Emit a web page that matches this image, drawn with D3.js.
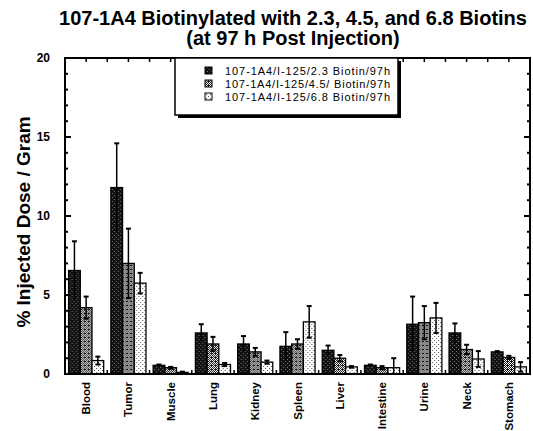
<!DOCTYPE html>
<html>
<head>
<meta charset="utf-8">
<script src="https://cdn.jsdelivr.net/npm/d3@7"></script>
<style>
  body { margin: 0; background: #fff; }
  text { font-family: "Liberation Sans", Arial, sans-serif; }
</style>
</head>
<body>
<div class="chart"></div>
<script>

const organs = ["Blood", "Tumor", "Muscle", "Lung", "Kidney", "Spleen", "Liver", "Intestine", "Urine", "Neck", "Stomach"];
const seriesNames = ["107-1A4/I-125/2.3 Biotin/97h", "107-1A4/I-125/4.5/ Biotin/97h", "107-1A4/I-125/6.8 Biotin/97h"];

// mean values (% ID / g)
const biotin23 = [6.55, 11.8, 0.55, 2.6, 1.9, 1.75, 1.5, 0.55, 3.15, 2.6, 1.4];
const biotin45 = [4.2, 7.0, 0.4, 1.9, 1.4, 1.9, 1.0, 0.4, 3.25, 1.55, 1.05];
const biotin68 = [0.85, 5.75, 0.1, 0.6, 0.75, 3.3, 0.45, 0.4, 3.55, 0.95, 0.45];

// error (sd)
const err23 = [1.85, 2.8, 0.05, 0.55, 0.5, 0.9, 0.3, 0.05, 1.75, 0.6, 0.05];
const err45 = [0.7, 2.2, 0.05, 0.45, 0.25, 0.3, 0.2, 0.1, 1.05, 0.3, 0.1];
const err68 = [0.25, 0.65, 0.05, 0.1, 0.1, 1.0, 0.05, 0.6, 0.95, 0.5, 0.3];

const yTicks = [0, 5, 10, 15, 20];

const width = 533, height = 431;
const margin = { top: 58, right: 3, bottom: 57, left: 65 };

const svg = d3.select(".chart").append("svg")
	.attr("width", width)
	.attr("height", height);

// stipple patterns like the scanned figure
const defs = svg.append("defs");
function pattern(id, bg, fg, cells) {
	const p = defs.append("pattern")
		.attr("id", id)
		.attr("width", 4).attr("height", 4)
		.attr("patternUnits", "userSpaceOnUse");
	p.append("rect").attr("width", 4).attr("height", 4).attr("fill", bg);
	cells.forEach((c) => {
		p.append("rect").attr("x", c[0]).attr("y", c[1]).attr("width", 1).attr("height", 1).attr("fill", fg);
	});
}
pattern("p0", "#111", "#777", [[1, 1], [3, 3]]);
pattern("p1", "#fff", "#111", [[0, 0], [2, 0], [1, 1], [3, 1], [0, 2], [2, 2], [1, 3], [3, 3], [0, 1]]);
pattern("p2", "#fff", "#555", [[0, 0], [2, 2]]);
const fills = ["url(#p0)", "url(#p1)", "url(#p2)"];

const x = d3.scaleBand()
	.domain(organs)
	.range([margin.left, width - margin.right])
	.paddingInner(0.17)
	.paddingOuter(0.085);

const xs = d3.scaleBand()
	.domain([0, 1, 2])
	.range([0, x.bandwidth()]);

const y = d3.scaleLinear()
	.domain([0, 20])
	.range([height - margin.bottom, margin.top]);

const x0 = margin.left, x1 = width - margin.right;
const y0 = y(0), y1 = y(20);
const step = (x1 - x0) / organs.length;

// title
svg.append("text")
	.attr("x", 293).attr("y", 25)
	.attr("text-anchor", "middle")
	.style("font-size", "20px").style("font-weight", "bold")
	.text("107-1A4 Biotinylated with 2.3, 4.5, and 6.8 Biotins");
svg.append("text")
	.attr("x", 293).attr("y", 45)
	.attr("text-anchor", "middle")
	.style("font-size", "20px").style("font-weight", "bold")
	.text("(at 97 h Post Injection)");

// bars
const series = [
	{ vals: biotin23, errs: err23 },
	{ vals: biotin45, errs: err45 },
	{ vals: biotin68, errs: err68 }
];

const rows = [];
series.forEach((s, si) => {
	organs.forEach((o, i) => {
		rows.push({ organ: o, s: si, v: s.vals[i], e: s.errs[i] });
	});
});

const bars = svg.append("g").attr("class", "bars")
	.selectAll("g").data(rows).enter()
	.append("g")
	.attr("transform", (d) => `translate(${x(d.organ) + xs(d.s)},0)`);

bars.append("rect")
	.attr("y", (d) => y(d.v))
	.attr("width", xs.bandwidth())
	.attr("height", (d) => y0 - y(d.v))
	.attr("fill", (d) => fills[d.s])
	.attr("stroke", "#000")
	.attr("stroke-width", 1.3);

const cx = xs.bandwidth() / 2;
bars.append("line")
	.attr("x1", cx).attr("x2", cx)
	.attr("y1", (d) => y(d.v + d.e))
	.attr("y2", (d) => y(Math.max(0, d.v - d.e)))
	.attr("stroke", "#000").attr("stroke-width", 1.5);
bars.append("line")
	.attr("x1", cx - 2.5).attr("x2", cx + 2.5)
	.attr("y1", (d) => y(d.v + d.e))
	.attr("y2", (d) => y(d.v + d.e))
	.attr("stroke", "#000").attr("stroke-width", 2);
bars.filter((d) => d.s > 0).append("line")
	.attr("x1", cx - 2.5).attr("x2", cx + 2.5)
	.attr("y1", (d) => y(Math.max(0, d.v - d.e)))
	.attr("y2", (d) => y(Math.max(0, d.v - d.e)))
	.attr("stroke", "#000").attr("stroke-width", 2);

// frame
const axes = svg.append("g").attr("stroke", "#000").attr("fill", "none");
axes.append("path")
	.attr("d", `M${x0},${y1}H${x1}V${y0}H${x0}Z`)
	.attr("stroke-width", 2);

// left/right minor ticks
d3.range(0, 21).forEach((v) => {
	const len = v % 5 === 0 ? 6 : 3;
	axes.append("line").attr("x1", x0).attr("x2", x0 + len)
		.attr("y1", y(v)).attr("y2", y(v)).attr("stroke-width", 2);
	axes.append("line").attr("x1", x1).attr("x2", x1 - len)
		.attr("y1", y(v)).attr("y2", y(v)).attr("stroke-width", 2);
});
// top and bottom ticks
d3.range(1, organs.length * 2).forEach((k) => {
	axes.append("line").attr("x1", x0 + k * step / 2).attr("x2", x0 + k * step / 2)
		.attr("y1", y1).attr("y2", y1 + 4).attr("stroke-width", 1.5);
});
d3.range(1, organs.length).forEach((k) => {
	axes.append("line").attr("x1", x0 + k * step).attr("x2", x0 + k * step)
		.attr("y1", y0).attr("y2", y0 - 4).attr("stroke-width", 1.5);
});

// y tick labels
svg.append("g").selectAll("text").data(yTicks).enter()
	.append("text")
	.attr("x", 50).attr("y", (d) => y(d) + 4)
	.attr("text-anchor", "end")
	.style("font-size", "12px").style("font-weight", "bold")
	.text((d) => d);

// y axis title
svg.append("text")
	.attr("transform", `translate(30,${(y0 + y1) / 2 + 6}) rotate(-90)`)
	.attr("text-anchor", "middle")
	.style("font-size", "19px").style("font-weight", "bold")
	.text("% Injected Dose / Gram");

// x labels
svg.append("g").selectAll("text").data(organs).enter()
	.append("text")
	.attr("transform", (d) => `translate(${x(d) + x.bandwidth() / 2 + 4},${y0 + 8}) rotate(-90)`)
	.attr("text-anchor", "end")
	.style("font-size", "11.5px").style("font-weight", "bold")
	.text((d) => d);

// legend
const lg = svg.append("g");
const lx = 175, ly = y1, lw = 223, lh = 57;
lg.append("rect").attr("x", lx + 3).attr("y", ly + 3).attr("width", lw).attr("height", lh).attr("fill", "#000");
lg.append("rect").attr("x", lx).attr("y", ly).attr("width", lw).attr("height", lh)
	.attr("fill", "#fff").attr("stroke", "#000").attr("stroke-width", 1.5);
seriesNames.forEach((n, i) => {
	const ry = ly + 13 + i * 13;
	lg.append("rect").attr("x", lx + 30).attr("y", ry - 4).attr("width", 7).attr("height", 7)
		.attr("fill", fills[i]).attr("stroke", "#000").attr("stroke-width", 1);
	lg.append("text").attr("x", lx + 50).attr("y", ry + 4)
		.attr("textLength", 165).attr("lengthAdjust", "spacing")
		.style("font-size", "11px")
		.text(n);
});
</script>
</body>
</html>
